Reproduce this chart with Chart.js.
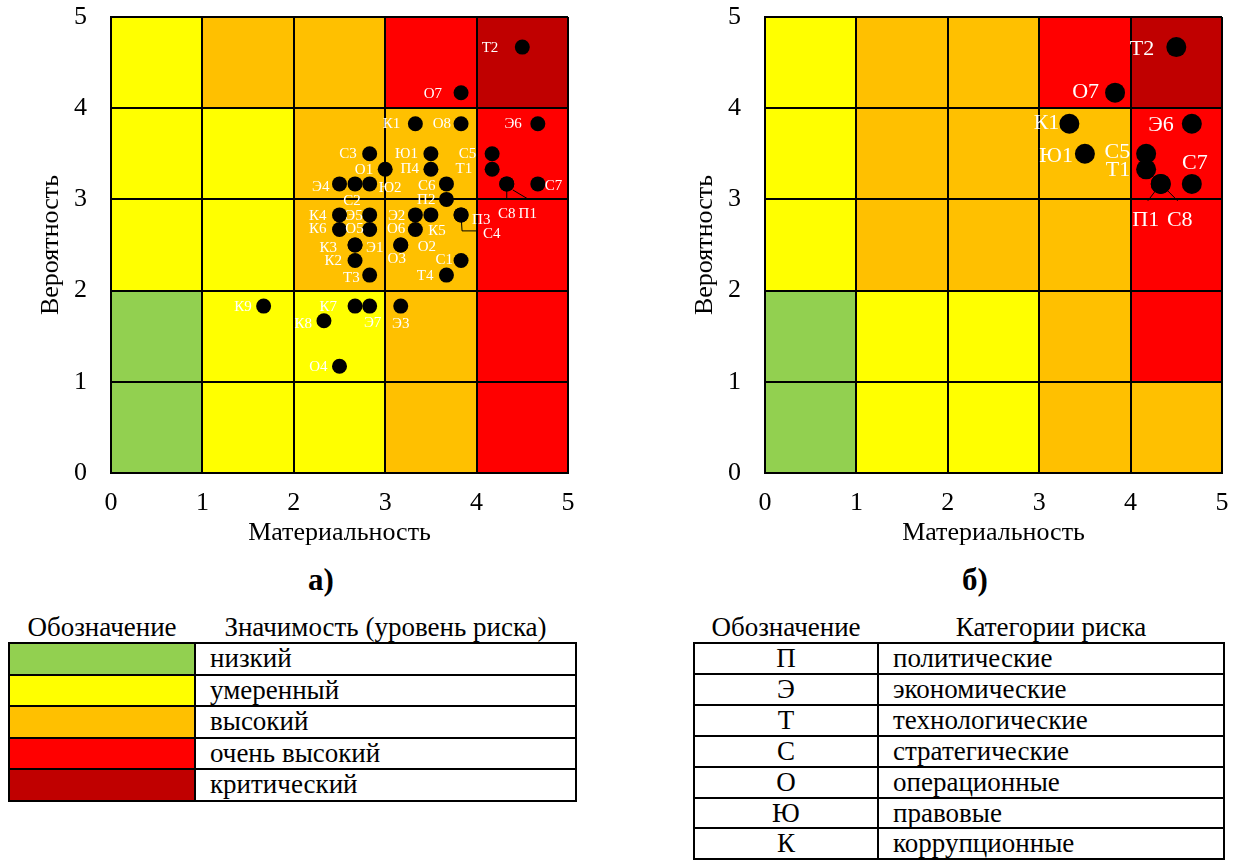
<!DOCTYPE html>
<html lang="ru">
<head>
<meta charset="utf-8">
<script src="https://cdn.jsdelivr.net/npm/chart.js@4.4.1/dist/chart.umd.min.js"></script>
<style>
  html, body { margin: 0; padding: 0; background: #fff; }
  body { width: 1238px; height: 863px; position: relative; overflow: hidden;
         font-family: "Liberation Serif", "Times New Roman", serif; color: #000; }
  canvas { position: absolute; top: 0; }
  .sub { position: absolute; top: 562px; width: 80px; text-align: center;
         font-weight: bold; font-size: 31px; line-height: 36px; }
  table { position: absolute; border-collapse: collapse; table-layout: fixed; }
  th { font-weight: normal; font-size: 27px; height: 30px; padding: 0; border: none; line-height: 30px; }
  td { border: 2px solid #000; padding: 0; font-size: 27px; }
  #tableLevels td { height: 29.6px; line-height: 29.6px; }
  #tableCats td { height: 28.9px; line-height: 28.9px; }
  td.name { text-align: left; padding-left: 14px; }
  td.code { text-align: center; }
</style>
</head>
<body>
<canvas id="chartA" width="590" height="554" style="left:0"></canvas>
<canvas id="chartB" width="590" height="554" style="left:654px"></canvas>
<div class="sub" style="left:281px">а)</div>
<div class="sub" style="left:935px">б)</div>
<table id="tableLevels" style="left:8px; top:612px; width:569px">
  <colgroup><col style="width:186px"><col></colgroup>
  <thead><tr><th>Обозначение</th><th>Значимость (уровень риска)</th></tr></thead>
  <tbody></tbody>
</table>
<table id="tableCats" style="left:693px; top:612px; width:532px">
  <colgroup><col style="width:184px"><col></colgroup>
  <thead><tr><th>Обозначение</th><th>Категории риска</th></tr></thead>
  <tbody></tbody>
</table>
<script>
const tickValues = [0, 1, 2, 3, 4, 5];
const xTitle = 'Материальность';
const yTitle = 'Вероятность';

const levelNames = ['низкий', 'умеренный', 'высокий', 'очень высокий', 'критический'];
const levelColors = ['#92D050', '#FFFF00', '#FFC000', '#FF0000', '#C00000'];

const categoryCodes = ['П', 'Э', 'Т', 'С', 'О', 'Ю', 'К'];
const categoryNames = ['политические', 'экономические', 'технологические', 'стратегические',
                       'операционные', 'правовые', 'коррупционные'];

// risk level of each cell, rows = probability 0-1 ... 4-5, columns = materiality 0-1 ... 4-5
const levelsA = [
  [0, 1, 1, 2, 3],
  [0, 1, 1, 2, 3],
  [1, 1, 2, 2, 3],
  [1, 1, 2, 2, 3],
  [1, 2, 2, 3, 4]
];
const levelsB = [
  [0, 1, 1, 2, 2],
  [0, 1, 1, 2, 3],
  [1, 2, 2, 2, 3],
  [1, 2, 2, 2, 3],
  [1, 2, 2, 3, 4]
];

// chart а)
const codesA = ['Т2', 'О7', 'К1', 'О8', 'Э6', 'С3', 'Ю1', 'С5', 'О1', 'П4', 'Т1', 'Э4', 'С2', 'Ю2',
                'С6', 'С8', 'П1', 'С7', 'П2', 'К4', 'Э5', 'Э2', 'К5', 'П3', 'С4', 'К6', 'О5', 'О6',
                'К3', 'Э1', 'О3', 'О2', 'К2', 'С1', 'Т3', 'Т4', 'К9', 'К7', 'Э7', 'Э3', 'К8', 'О4'];
const materialityA = [4.5, 3.83, 3.33, 3.83, 4.67, 2.83, 3.5, 4.17, 3.0, 3.5, 4.17, 2.5, 2.67, 2.83,
                      3.67, 4.33, 4.33, 4.67, 3.67, 2.5, 2.83, 3.33, 3.5, 3.83, 3.83, 2.5, 2.83, 3.33,
                      2.67, 2.67, 3.17, 3.17, 2.67, 3.83, 2.83, 3.67, 1.67, 2.67, 2.83, 3.17, 2.33, 2.5];
const probabilityA = [4.67, 4.17, 3.83, 3.83, 3.83, 3.5, 3.5, 3.5, 3.33, 3.33, 3.33, 3.17, 3.17, 3.17,
                      3.17, 3.17, 3.17, 3.17, 3.0, 2.83, 2.83, 2.83, 2.83, 2.83, 2.83, 2.67, 2.67, 2.67,
                      2.5, 2.5, 2.5, 2.5, 2.33, 2.33, 2.17, 2.17, 1.83, 1.83, 1.83, 1.83, 1.67, 1.17];

// chart б)
const codesB = ['Т2', 'О7', 'К1', 'Э6', 'Ю1', 'С5', 'Т1', 'П1', 'С8', 'С7'];
const materialityB = [4.5, 3.83, 3.33, 4.67, 3.5, 4.17, 4.17, 4.33, 4.33, 4.67];
const probabilityB = [4.67, 4.17, 3.83, 3.83, 3.5, 3.5, 3.33, 3.17, 3.17, 3.17];

// label placement: [side, dx, dy, leader points]
const placeA = {
  'Т2': ['L', -24, 1], 'О7': ['L', -19, 1], 'К1': ['L', -15, 0], 'О8': ['L', -10, 0],
  'Э6': ['L', -16, 0], 'С3': ['L', -13, 0], 'Ю1': ['L', -13, 0], 'С5': ['L', -16, 0],
  'О1': ['L', -12, 1], 'П4': ['L', -12, 0], 'Т1': ['L', -20, 0], 'Э4': ['L', -10, 3],
  'С2': ['C', -3, 17], 'Ю2': ['R', 9, 4], 'С6': ['L', -11, 2],
  'С8': ['C', 0, 30, [[0, 0], [0, 15]]], 'П1': ['C', 21, 30, [[6, 6], [21, 15]]],
  'С7': ['R', 7, 2], 'П2': ['L', -11, 1], 'К4': ['L', -13, 1], 'Э5': ['L', -7, 1],
  'Э2': ['L', -10, 1], 'К5': ['C', 6, 16], 'П3': ['R', 11, 5],
  'С4': ['R', 22, 19, [[0, 0], [1, 16], [15, 16]]],
  'К6': ['L', -13, 0], 'О5': ['L', -6, 0], 'О6': ['L', -10, 0], 'К3': ['L', -18, 3],
  'Э1': ['R', 11, 3], 'О3': ['C', -4, 14], 'О2': ['R', 17, 2], 'К2': ['L', -13, 1],
  'С1': ['L', -8, 0], 'Т3': ['L', -10, 3], 'Т4': ['L', -13, 1], 'К9': ['L', -12, 1],
  'К7': ['L', -18, 1], 'Э7': ['C', 3, 17], 'Э3': ['C', 0, 18], 'К8': ['L', -12, 3],
  'О4': ['L', -12, 1]
};
const placeB = {
  'Т2': ['L', -22, 2], 'О7': ['L', -16, 0], 'К1': ['L', -10, 0], 'Э6': ['L', -18, 2],
  'Ю1': ['L', -12, 2], 'С5': ['L', -16, -2], 'Т1': ['L', -16, 1],
  'П1': ['C', -15, 36, [[0, 0], [-13, 17]]], 'С8': ['C', 19, 36, [[0, 0], [17, 17]]],
  'С7': ['C', 3, -21]
};

const serif = '"Liberation Serif", "Times New Roman", serif';

const cellPlugin = {
  id: 'cells',
  beforeDraw(chart, args, opts) {
    const { ctx, scales: { x, y } } = chart;
    ctx.save();
    opts.levels.forEach((row, r) => {
      row.forEach((lv, c) => {
        const x0 = x.getPixelForValue(c), x1 = x.getPixelForValue(c + 1);
        const y0 = y.getPixelForValue(r + 1), y1 = y.getPixelForValue(r);
        ctx.fillStyle = levelColors[lv];
        ctx.fillRect(x0, y0, x1 - x0, y1 - y0);
      });
    });
    ctx.restore();
  }
};

const labelPlugin = {
  id: 'pointLabels',
  afterDatasetsDraw(chart, args, opts) {
    const { ctx } = chart;
    const meta = chart.getDatasetMeta(0);
    ctx.save();
    ctx.font = opts.font;
    ctx.textBaseline = 'middle';
    ctx.strokeStyle = '#000';
    ctx.lineWidth = 1;
    opts.codes.forEach((code, i) => {
      const pt = meta.data[i];
      const [side, dx, dy, lead] = opts.place[code];
      if (lead) {
        ctx.beginPath();
        ctx.moveTo(pt.x + lead[0][0], pt.y + lead[0][1]);
        lead.slice(1).forEach(p => ctx.lineTo(pt.x + p[0], pt.y + p[1]));
        ctx.stroke();
      }
      ctx.textAlign = side === 'L' ? 'right' : side === 'R' ? 'left' : 'center';
      ctx.fillStyle = '#fff';
      ctx.fillText(code, pt.x + dx, pt.y + dy);
    });
    ctx.restore();
  }
};

function axis(extra) {
  return Object.assign({
    type: 'linear', min: 0, max: 5,
    afterBuildTicks: s => { s.ticks = tickValues.map(v => ({ value: v })); },
    grid: { color: '#000', lineWidth: 2, drawTicks: false },
    border: { color: '#000', width: 2 }
  }, extra);
}

function makeChart(id, codes, xs, ys, levels, place, radius, labelFont) {
  return new Chart(document.getElementById(id), {
    type: 'scatter',
    data: {
      datasets: [{
        data: codes.map((c, i) => ({ x: xs[i], y: ys[i] })),
        backgroundColor: '#000',
        borderWidth: 0,
        pointRadius: radius,
        pointHoverRadius: radius
      }]
    },
    options: {
      responsive: false,
      animation: false,
      events: [],
      layout: { padding: { left: 28, right: 22, top: 17, bottom: 5 } },
      plugins: {
        legend: { display: false },
        tooltip: { enabled: false },
        cells: { levels },
        pointLabels: { codes, place, font: labelFont }
      },
      scales: {
        x: axis({
          afterFit: s => { s.height = 76; s.paddingLeft = 0; s.paddingRight = 0; },
          ticks: { padding: 15, color: '#000', font: { family: serif, size: 26 } },
          title: { display: true, text: xTitle, color: '#000', padding: 0,
                   font: { family: serif, size: 26 } }
        }),
        y: axis({
          afterFit: s => { s.width = 83; s.paddingTop = 0; s.paddingBottom = 0; },
          ticks: { padding: 24, color: '#000', font: { family: serif, size: 26 } },
          title: { display: true, text: yTitle, color: '#000', padding: { top: 8, bottom: 0 },
                   font: { family: serif, size: 26 } }
        })
      }
    },
    plugins: [cellPlugin, labelPlugin]
  });
}

makeChart('chartA', codesA, materialityA, probabilityA, levelsA, placeA, 7.5, '15px ' + serif);
makeChart('chartB', codesB, materialityB, probabilityB, levelsB, placeB, 10, '22px ' + serif);

// legend tables
const levelBody = document.querySelector('#tableLevels tbody');
levelNames.forEach((name, i) => {
  const tr = document.createElement('tr');
  tr.innerHTML = '<td style="background:' + levelColors[i] + '"></td><td class="name">' + name + '</td>';
  levelBody.appendChild(tr);
});
const catBody = document.querySelector('#tableCats tbody');
categoryCodes.forEach((code, i) => {
  const tr = document.createElement('tr');
  tr.innerHTML = '<td class="code">' + code + '</td><td class="name">' + categoryNames[i] + '</td>';
  catBody.appendChild(tr);
});
</script>
</body>
</html>
